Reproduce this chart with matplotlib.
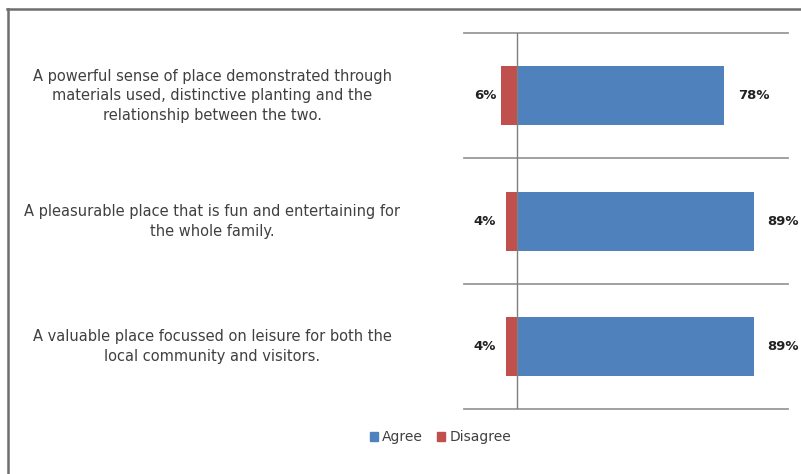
import matplotlib
matplotlib.use("Agg")
import matplotlib.pyplot as plt
from matplotlib.lines import Line2D
from matplotlib.patches import Patch

categories = [
    "A powerful sense of place demonstrated through\nmaterials used, distinctive planting and the\nrelationship between the two.",
    "A pleasurable place that is fun and entertaining for\nthe whole family.",
    "A valuable place focussed on leisure for both the\nlocal community and visitors.",
]
agree = [78, 89, 89]
disagree = [6, 4, 4]
agree_labels = ["78%", "89%", "89%"]
disagree_labels = ["6%", "4%", "4%"]

BLUE = "#4F81BD"
RED = "#C0504D"
FONT = ["Liberation Sans Narrow", "DejaVu Sans"]

fig = plt.figure(figsize=(8.01, 4.74), dpi=100)
ax = fig.add_axes([0.574, 0.137, 0.419, 0.793])

ypos = [0, 1, 2]
ax.barh(ypos, agree, height=0.47, color=BLUE, left=0, zorder=3)
ax.barh(ypos, [-d for d in disagree], height=0.47, color=RED, left=0, zorder=3)

ax.set_xlim(-21.5, 104.7)
ax.set_ylim(2.5, -0.5)

for y, a, d, al, dl in zip(ypos, agree, disagree, agree_labels, disagree_labels):
    ax.text(a + 5, y, al, ha="left", va="center", fontsize=9.5,
            fontweight="bold", color="#222222", family=FONT)
    ax.text(-12.0, y, dl, ha="center", va="center", fontsize=9.5,
            fontweight="bold", color="#222222", family=FONT)

# category dividers
for yb in [-0.5, 0.5, 1.5, 2.5]:
    ax.plot([-20, 102], [yb, yb], color="#9a9a9a", lw=1.3, zorder=2,
            clip_on=False)
ax.axvline(0, color="#7f7f7f", lw=1.0, zorder=4)

for sp in ax.spines.values():
    sp.set_visible(False)
ax.set_xticks([])
ax.set_yticks([])

# category labels
for y, c in zip(ypos, categories):
    yd = ax.transData.transform((0, y))[1]
    yf = fig.transFigure.inverted().transform((0, yd))[1]
    fig.text(0.265, yf, c, ha="center", va="center", fontsize=10.5,
             color="#404040", family=FONT, linespacing=1.4)

handles = [Patch(color=BLUE), Patch(color=RED)]
leg = fig.legend(handles, ["Agree", "Disagree"], loc="center",
                 bbox_to_anchor=(0.55, 0.078), ncol=2, frameon=False,
                 handlelength=0.6, handleheight=0.6, handletextpad=0.3,
                 columnspacing=1.0, prop={"family": FONT, "size": 10})
for t in leg.get_texts():
    t.set_color("#404040")

# outer chart border (top and left visible)
fig.add_artist(Line2D([0.009, 1.0], [0.981, 0.981], color="#6e6e6e", lw=1.8,
                      transform=fig.transFigure))
fig.add_artist(Line2D([0.0095, 0.0095], [0.0, 0.981], color="#6e6e6e", lw=1.8,
                      transform=fig.transFigure))

fig.savefig("out.png", dpi=100, facecolor="white")
